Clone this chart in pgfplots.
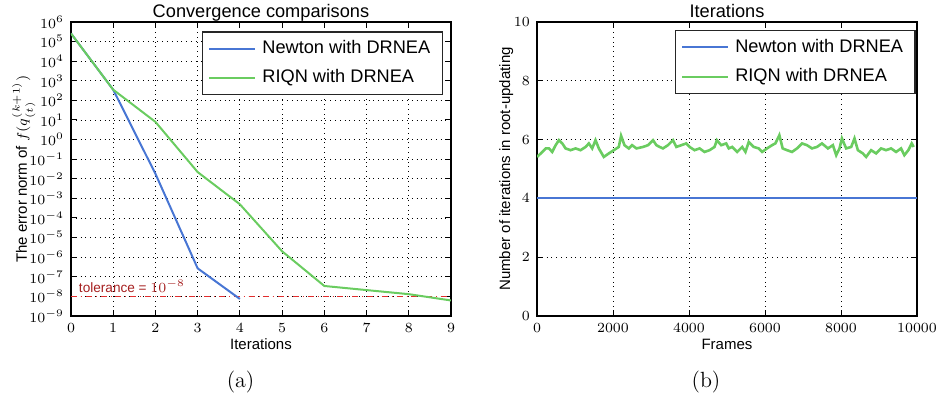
\documentclass[border=0pt]{standalone}
\usepackage{pgfplots}
\pgfplotsset{compat=1.18}
\usepackage{fontspec}
\newfontfamily\hv{Liberation Sans}

\definecolor{mblue}{RGB}{72,118,212}
\definecolor{mgreen}{RGB}{106,204,96}
\definecolor{tolred}{RGB}{225,45,45}
\definecolor{toltext}{RGB}{165,30,30}

% shared look of both panels (1px of the reference = 0.5pt)
\pgfplotsset{
  every axis title shift=0pt,
  mplstyle/.style={
    scale only axis, width=190pt, height=147pt,
    axis line style={line width=0.8pt},
    tick style={black, line width=0.5pt},
    major tick length=3pt,
    grid=major, major grid style={black, dotted, line width=0.4pt},
    tick label style={font=\fontsize{6.8}{8}\selectfont},
    label style={font=\hv\fontsize{7.5}{9}\selectfont},
    title style={font=\hv\fontsize{9.1}{11}\selectfont, at={(axis description cs:0.5,1)}, anchor=base, yshift=2.4pt},
    xlabel style={at={(axis description cs:0.5,0)}, anchor=base, yshift=-17pt},
    legend cell align=left,
    legend style={font=\hv\fontsize{9.1}{11}\selectfont, draw=black!85, line width=0.7pt,
      inner xsep=3pt, inner ysep=1pt, row sep=0pt,
      nodes={inner xsep=3pt, inner ysep=3.3pt}},
    legend image post style={line width=1pt},
    legend image code/.code={%
      \path (-2pt,0pt) -- (21pt,0pt);
      \draw[#1] (0pt,0pt) -- (14pt,0pt);},
  }
}

\begin{document}
\begin{tikzpicture}
\useasboundingbox (-35.5pt,-42.5pt) rectangle (433.5pt,158pt);

% (a) convergence
\begin{axis}[mplstyle,
    at={(0pt,0pt)}, anchor=south west,
    title={Convergence comparisons},
    xlabel={Iterations},
    ylabel={The error norm of $f(q_{(t)}^{(k+1)})$},
    ylabel style={at={(axis description cs:-0.1158,0.5)}, anchor=base, rotate=0},
    xmin=0, xmax=9, xtick={0,...,9},
    ymode=log, ymin=1e-9, ymax=1e6,
    ytick={1e-9,1e-8,1e-7,1e-6,1e-5,1e-4,1e-3,1e-2,1e-1,1,1e1,1e2,1e3,1e4,1e5,1e6},
    minor y tick style={draw=none},
    legend style={at={(axis description cs:0.979,0.969)}, anchor=north east},
  ]
  \addplot[tolred, dash dot, line width=0.8pt, forget plot] coordinates {(0,1e-8) (9,1e-8)};
  \addplot[mblue, line width=1pt] coordinates {
    (0,2.6e5) (1,3.5e2) (2,1.8e-2) (3,2.7e-7) (4,7.4e-9)};
  \addplot[mgreen, line width=1pt] coordinates {
    (0,2.6e5) (1,3.5e2) (2,8) (3,2.2e-2) (4,5e-4) (5,2e-6)
    (6,3.4e-8) (7,2.1e-8) (8,1.3e-8) (9,6.2e-9)};
  \legend{Newton with DRNEA, RIQN with DRNEA}
  \node[anchor=west, text=toltext, font=\hv\fontsize{6.8}{8}\selectfont, inner sep=0pt]
    at (axis cs:0.18,3.4e-8) {tolerance = $10^{-8}$};
\end{axis}

% (b) iterations per frame
\begin{axis}[mplstyle,
    at={(233pt,0pt)}, anchor=south west,
    title={Iterations},
    xlabel={Frames},
    ylabel={Number of iterations in root-updating},
    ylabel style={at={(axis description cs:-0.0709,0.5)}, anchor=base, rotate=0},
    xmin=0, xmax=10000, xtick={0,2000,...,10000},
    scaled x ticks=false,
    x tick label style={/pgf/number format/set thousands separator={}},
    ymin=0, ymax=10, ytick={0,2,...,10},
    legend style={at={(axis description cs:0.997,0.973)}, anchor=north east},
  ]
  \addplot[mblue, line width=1pt] coordinates {(0,4) (10000,4)};
  \addplot[mgreen, line width=1.3pt] coordinates {
    (0,5.41) (100,5.53) (230,5.70) (315,5.70) (400,5.58) (490,5.81)
    (577,5.98) (665,5.87) (752,5.70) (884,5.64) (1015,5.70) (1147,5.64)
    (1278,5.75) (1365,5.87) (1452,5.70) (1540,5.98) (1627,5.70) (1758,5.41)
    (1890,5.53) (2021,5.64) (2152,5.75) (2213,6.13) (2302,5.81) (2415,5.70)
    (2502,5.81) (2617,5.70) (2790,5.75) (2921,5.81) (3052,5.98) (3142,5.81)
    (3228,5.75) (3315,5.70) (3446,5.81) (3577,5.98) (3666,5.75) (3798,5.81)
    (3929,5.87) (4016,5.75) (4147,5.64) (4278,5.70) (4409,5.58) (4541,5.64)
    (4672,5.75) (4733,5.98) (4848,5.81) (4979,5.87) (5047,5.70) (5136,5.75)
    (5267,5.58) (5399,5.75) (5486,5.58) (5572,5.92) (5704,5.75) (5835,5.70)
    (5923,5.58) (6054,5.70) (6186,5.81) (6273,5.87) (6378,6.15) (6465,5.70)
    (6580,5.64) (6711,5.58) (6842,5.70) (6974,5.87) (7105,5.81) (7236,5.70)
    (7367,5.75) (7499,5.87) (7656,5.70) (7787,5.81) (7874,5.47) (7961,5.70)
    (8024,6.04) (8136,5.70) (8268,5.75) (8355,6.04) (8444,5.64) (8575,5.53)
    (8661,5.41) (8793,5.64) (8924,5.53) (9055,5.70) (9186,5.64) (9318,5.70)
    (9449,5.58) (9580,5.70) (9667,5.47) (9772,5.64) (9861,5.87) (9913,5.75)};
  \legend{Newton with DRNEA, RIQN with DRNEA}
\end{axis}

\node[anchor=base, font=\fontsize{11}{13}\selectfont] at (84.8pt,-36pt) {(a)};
\node[anchor=base, font=\fontsize{11}{13}\selectfont] at (317.5pt,-36pt) {(b)};
\end{tikzpicture}
\end{document}
